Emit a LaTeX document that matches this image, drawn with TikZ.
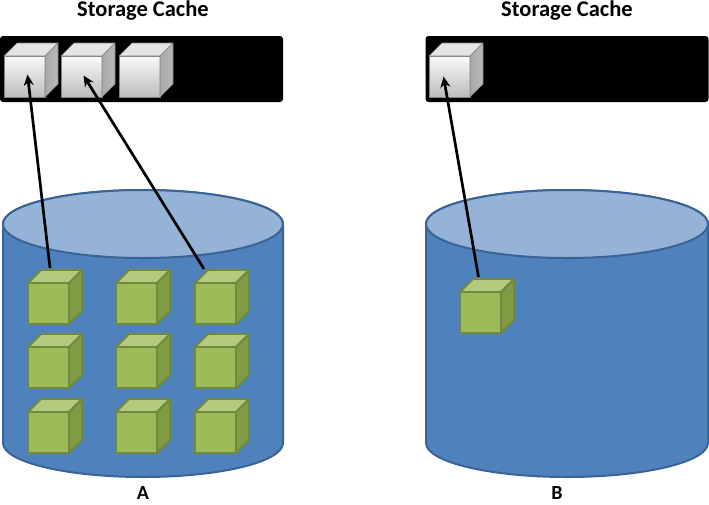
\documentclass[tikz,border=0pt]{standalone}
\usepackage{fontspec}
\setmainfont{Carlito}
\usetikzlibrary{arrows.meta,calc}
\definecolor{cylbody}{HTML}{4F81BD}
\definecolor{cyltop}{HTML}{95B3D7}
\definecolor{cylline}{HTML}{3A6396}
\definecolor{gfront}{HTML}{9BBB59}
\definecolor{gtop}{HTML}{B3CB7F}
\definecolor{gside}{HTML}{7F9C45}
\definecolor{gline}{HTML}{71893F}
\definecolor{cfront}{HTML}{D6D6D6}
\definecolor{ctop}{HTML}{E4E4E4}
\definecolor{cside}{HTML}{A8A8A8}
\definecolor{cline}{HTML}{808080}
\tikzset{
  titletext/.style={font=\bfseries\fontsize{22.5}{27}\selectfont, inner sep=0pt, anchor=base},
  cachebar/.style={fill=black, rounded corners=3pt, minimum width=283pt, minimum height=66pt, inner sep=0pt, outer sep=0pt},
  gface/.style={draw=gline, fill=gfront, line width=1.8pt, minimum size=41pt, inner sep=0pt, outer sep=0pt},
  gtopface/.style={draw=gline, fill=gtop, line width=1.8pt, line join=round},
  gsideface/.style={draw=gline, fill=gside, line width=1.8pt, line join=round},
  cface/.style={draw=cline, line width=0.6pt, top color=white!88!cfront, bottom color=cfront!88!black, minimum size=41pt, inner sep=0pt, outer sep=0pt},
  ctopface/.style={draw=cline, line width=0.6pt, fill=ctop, line join=round},
  csideface/.style={draw=cline, line width=0.6pt, left color=cside, right color=cside!80!white, line join=round},
  cylinder/.style={fill=cylbody, draw=cylline, line width=2pt},
  cyllid/.style={fill=cyltop, draw=cylline, line width=2pt},
  conn/.style={line width=2.7pt, -{Stealth[length=11pt,width=10pt]}},
  labeltext/.style={font=\bfseries\fontsize{20}{24}\selectfont, inner sep=0pt, anchor=base}
}
\newcommand\greenbox[3]{%
  \node[gface] (#1) at (#2+20.5,#3+20.5) {};
  \path[gtopface] (#1.north west) -- ++(13,-13) -- ++(41,0) -- (#1.north east) -- cycle;
  \path[gsideface] (#1.north east) -- ++(13,-13) -- ++(0,41) -- (#1.south east) -- cycle;
}
\newcommand\cachebox[3]{%
  \node[cface] (#1) at (#2+20.5,#3+20.5) {};
  \path[ctopface] (#1.north west) -- ++(13,-13) -- ++(41,0) -- (#1.north east) -- cycle;
  \path[csideface] (#1.north east) -- ++(13,-13) -- ++(0,41) -- (#1.south east) -- cycle;
}
\begin{document}
\begin{tikzpicture}[x=1pt,y=-1pt]
\useasboundingbox (0,0) rectangle (709,504);
% titles
\node[titletext] (tA) at (143,16.5) {Storage Cache};
\node[titletext] (tB) at (567,16.5) {Storage Cache};
% cache bars
\node[cachebar] (barA) at (141.5,69) {};
\node[cachebar] (barB) at (567,69) {};
% cache cubes
\cachebox{c1}{4}{56}
\cachebox{c2}{61}{56}
\cachebox{c3}{119}{56}
\cachebox{cb}{429}{56}
% cylinder A
\path[cylinder] (3,224) -- (3,443) arc[start angle=180,end angle=360,x radius=140pt,y radius=34pt] -- (283,224) arc[start angle=0,end angle=180,x radius=140pt,y radius=34pt] -- cycle;
\path[cyllid] (143,224) ellipse [x radius=140pt, y radius=34pt];
% cylinder B
\path[cylinder] (426,224) -- (426,443) arc[start angle=180,end angle=360,x radius=141pt,y radius=34pt] -- (708,224) arc[start angle=0,end angle=180,x radius=141pt,y radius=34pt] -- cycle;
\path[cyllid] (567,224) ellipse [x radius=141pt, y radius=34pt];
% green cubes A
\greenbox{g11}{28}{283}
\greenbox{g12}{116}{283}
\greenbox{g13}{195}{283}
\greenbox{g21}{28}{347}
\greenbox{g22}{116}{347}
\greenbox{g23}{195}{347}
\greenbox{g31}{28}{412}
\greenbox{g32}{116}{412}
\greenbox{g33}{195}{412}
% green cube B
\greenbox{gb}{460}{292}
% connectors
\draw[conn] ($(g11.north)+(1.5,-15)$) -- ($(c1.center)+(3,-2)$);
\draw[conn] ($(g13.north west)+(9,-14)$) -- ($(c2.center)+(2,-1)$);
\draw[conn] ($(gb.north)+(-2,-15)$) -- ($(cb.center)+(-6,0)$);
% labels
\node[labeltext] (la) at (143,499) {A};
\node[labeltext] (lb) at (557,499) {B};
\end{tikzpicture}
\end{document}
